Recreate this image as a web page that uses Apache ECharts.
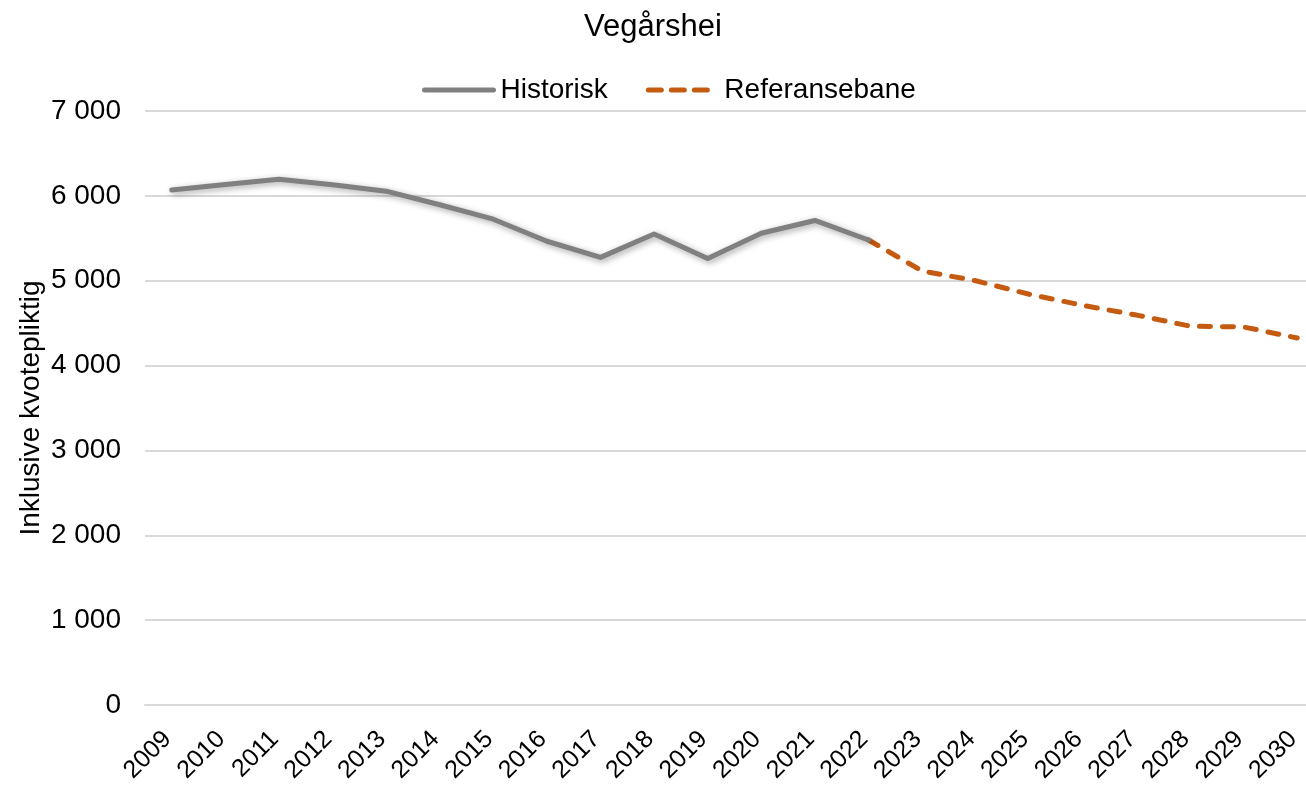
<!DOCTYPE html>
<html>
<head>
<meta charset="utf-8">
<title>Vegårshei</title>
<script src="https://cdn.jsdelivr.net/npm/echarts@6/dist/echarts.min.js"></script>
<style>
    html, body { margin: 0; padding: 0; background: #fff; }
    #chart { width: 1306px; height: 785px; }
</style>
</head>
<body>
<div id="chart"></div>
<script>
// år langs x-aksen
var years = ['2009', '2010', '2011', '2012', '2013', '2014', '2015', '2016', '2017', '2018', '2019',
    '2020', '2021', '2022', '2023', '2024', '2025', '2026', '2027', '2028', '2029', '2030'];

// historiske utslipp 2009-2022
var historisk = [6070, 6135, 6195, 6130, 6055, 5895, 5725, 5465, 5275, 5550, 5262,
    5560, 5710, 5480];

// referansebane fra 2022
var referansebane = [5480, 5115, 5000, 4840, 4710, 4595, 4465, 4455, 4325];

var yTicks = { min: 0, max: 7000, interval: 1000 };

var histData = years.map(function (y, i) {
    return i < historisk.length ? historisk[i] : '-';
});
var refStart = historisk.length - 1;
var refData = years.map(function (y, i) {
    return i >= refStart ? referansebane[i - refStart] : '-';
});

var font = 'Liberation Sans, Arial, sans-serif';
var grey = '#808080';
var orange = '#c55a11';

var chart = echarts.init(document.getElementById('chart'));
chart.setOption({
    animation: false,
    textStyle: { fontFamily: font },
    title: {
        text: 'Vegårshei',
        left: 'center',
        top: 7,
        textStyle: { fontSize: 31, fontWeight: 'normal', color: '#000', fontFamily: font }
    },
    legend: {
        top: 71,
        left: 417,
        itemWidth: 69,
        itemHeight: 14,
        itemGap: 38,
        textStyle: { fontSize: 28, color: '#000', fontFamily: font, padding: [0, 0, 0, 2] },
        data: [{
            name: 'Historisk',
            itemStyle: { opacity: 0 },
            lineStyle: { color: grey, width: 5, cap: 'round' }
        }, {
            name: 'Referansebane',
            itemStyle: { opacity: 0 },
            lineStyle: { color: orange, width: 5, type: [13, 10], cap: 'round' }
        }]
    },
    grid: {
        left: 145,
        right: -18,
        top: 111,
        bottom: 80,
        outerBoundsMode: 'none'
    },
    xAxis: {
        type: 'category',
        data: years,
        boundaryGap: true,
        axisLine: { show: true, lineStyle: { color: '#d9d9d9', width: 2 } },
        axisTick: { show: false },
        axisLabel: {
            rotate: 45,
            margin: 26,
            fontSize: 25,
            padding: [0, 6, 0, 0],
            color: '#000',
            fontFamily: font,
            interval: 0
        }
    },
    yAxis: {
        type: 'value',
        min: yTicks.min,
        max: yTicks.max,
        interval: yTicks.interval,
        name: 'Inklusive kvotepliktig',
        nameLocation: 'middle',
        nameGap: 100,
        nameMoveOverlap: false,
        nameTextStyle: { fontSize: 28, color: '#000', fontFamily: font },
        axisLine: { show: false },
        axisTick: { show: false },
        splitLine: { lineStyle: { color: '#d9d9d9', width: 2 } },
        axisLabel: {
            margin: 24,
            fontSize: 28,
            color: '#000',
            fontFamily: font,
            formatter: function (v) {
                return String(v).replace(/\B(?=(\d{3})+(?!\d))/g, ' ');
            }
        }
    },
    series: [{
        name: 'Historisk',
        type: 'line',
        data: histData,
        symbol: 'none',
        z: 3,
        lineStyle: {
            color: grey,
            width: 5,
            cap: 'round',
            join: 'round',
            shadowColor: 'rgba(0,0,0,0.35)',
            shadowBlur: 6,
            shadowOffsetX: 2,
            shadowOffsetY: 2
        },
        itemStyle: { color: grey }
    }, {
        name: 'Referansebane',
        type: 'line',
        data: refData,
        symbol: 'none',
        z: 2,
        lineStyle: {
            color: orange,
            width: 5,
            type: [11, 12],
            cap: 'round',
            join: 'round'
        },
        itemStyle: { color: orange }
    }]
});
</script>
</body>
</html>
